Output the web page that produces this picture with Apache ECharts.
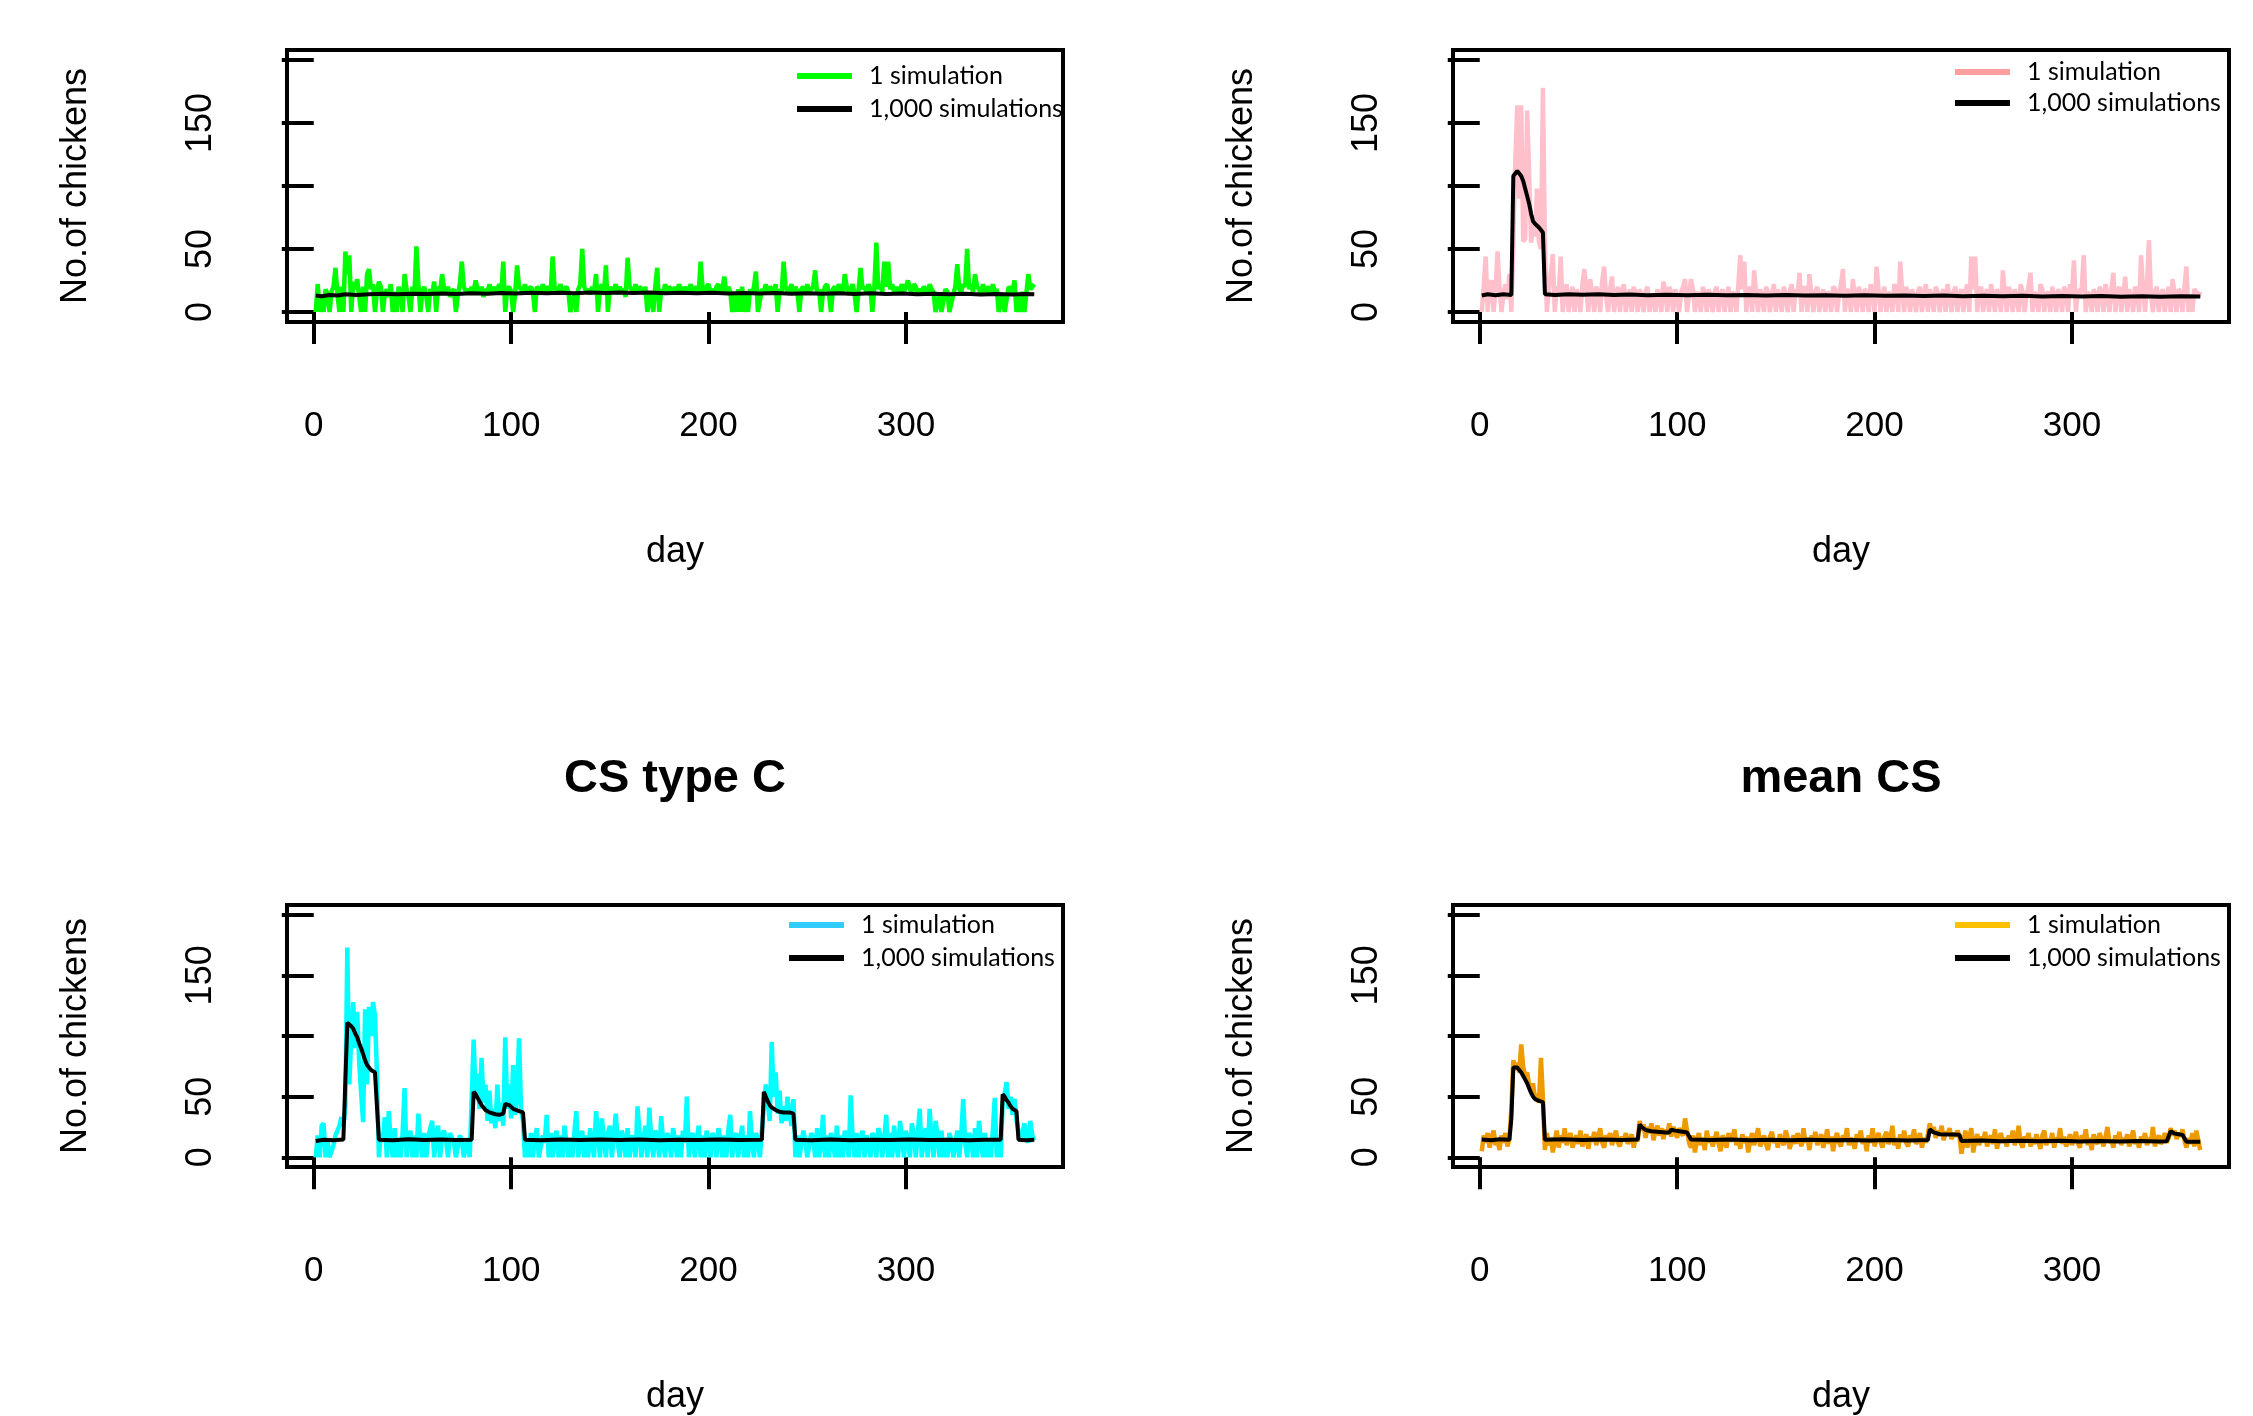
<!DOCTYPE html>
<html><head><meta charset="utf-8">
<script src="https://cdn.jsdelivr.net/npm/echarts@6/dist/echarts.min.js"></script>
<style>html,body{margin:0;padding:0;background:#fff}#c{width:2253px;height:1416px}</style>
</head><body><div id="c"></div>
<script>
// ---------- tick labels / names ----------
const xTicks = [0, 100, 200, 300];
const yTicks = [0, 50, 100, 150, 200];
const yLabels = [0, 50, 150];
const panelTitles = ['', '', 'CS type C', 'mean CS'];
const legendNames = ['1 simulation', '1,000 simulations'];
const xName = 'day';
const yName = 'No.of chickens';

// ---------- 1 simulation (days 1..365) ----------
const simA = [
0,22,0,12,0,18,14,0,16,20,
35,14,0,20,0,48,30,45,0,24,
18,26,12,0,20,0,30,34,18,22,
0,16,24,20,0,14,18,12,22,0,
16,0,20,14,0,30,18,12,0,20,
14,52,22,0,16,20,12,0,18,14,
24,0,20,16,30,18,14,20,12,16,
18,0,14,22,40,20,16,18,14,20,
16,25,18,14,20,12,18,16,22,14,
20,16,18,22,14,40,0,18,20,16,
0,14,37,20,18,16,22,14,18,20,
16,0,20,18,14,22,16,20,18,14,
44,20,16,18,22,14,18,20,16,0,
0,14,0,18,22,50,20,16,18,14,
20,16,30,0,18,22,14,37,0,20,
16,18,22,14,20,16,18,12,43,20,
18,14,22,16,20,18,14,20,0,0,
16,0,20,35,0,18,14,22,16,20,
18,14,20,16,22,18,14,20,16,18,
22,14,18,20,16,40,18,14,20,22,
16,18,14,20,22,16,18,28,14,20,
16,0,14,0,18,0,20,0,16,0,
18,14,20,32,0,0,18,16,22,14,
20,18,16,22,0,18,14,40,20,16,
18,22,14,20,16,0,18,20,14,22,
16,18,20,33,14,18,0,16,20,22,
14,0,18,20,16,22,18,14,30,20,
16,18,22,14,0,0,35,18,20,16,
22,18,0,20,55,18,22,16,40,20,
40,18,22,16,20,14,18,22,16,20,
25,18,16,22,20,14,18,16,20,18,
14,22,18,16,0,0,14,0,0,18,
16,0,0,14,20,38,18,16,22,20,
50,18,22,16,30,20,18,14,22,16,
18,20,14,22,16,18,0,0,14,0,
0,20,18,16,25,0,14,0,16,0,
0,30,18,20,22];

const simB = [
0,20,44,0,22,25,0,18,48,20,
0,14,22,10,30,0,56,120,164,90,
164,56,58,160,110,55,70,60,98,55,
50,178,55,0,18,30,46,0,20,12,
44,0,16,22,0,14,20,0,18,12,
0,22,34,18,0,26,14,0,20,16,
0,24,36,12,0,18,28,0,14,20,
0,16,22,0,12,18,0,20,14,0,
18,12,0,16,20,0,14,10,0,18,
12,0,24,16,0,20,14,0,18,12,
0,16,20,26,0,14,26,18,0,16,
12,0,20,14,0,18,12,0,16,20,
0,14,18,0,12,20,0,16,14,0,
22,45,18,40,0,16,20,0,33,14,
0,18,12,0,20,16,0,14,22,0,
18,12,0,20,14,0,16,22,0,18,
14,31,0,18,20,0,30,14,0,16,
20,0,12,18,0,16,14,0,20,18,
0,14,22,34,0,18,16,0,26,12,
0,20,14,0,18,16,0,22,14,0,
36,18,0,14,20,0,16,12,0,22,
18,0,40,16,0,20,14,0,18,12,
0,16,20,0,14,22,0,18,12,0,
20,16,0,14,18,0,22,12,0,16,
20,0,14,18,0,16,22,0,44,18,
44,0,16,20,0,14,18,0,22,12,
0,18,14,0,33,16,0,20,14,0,
18,12,0,22,16,0,14,20,31,0,
16,12,0,22,18,0,14,16,0,20,
12,0,18,14,0,20,16,0,22,14,
41,0,18,14,20,45,0,16,12,0,
18,14,0,20,16,0,22,14,0,18,
31,0,16,20,0,14,28,0,18,12,
0,20,16,0,45,18,0,22,57,14,
0,16,20,0,14,18,0,12,20,0,
26,14,0,18,16,0,20,36,0,14,
0,18,16,12,16];

const simC = [
0,18,0,26,28,0,14,0,0,10,
18,22,26,33,26,40,173,60,100,128,
90,120,79,53,29,122,60,124,100,128,
117,70,0,20,14,33,0,38,12,0,
24,0,16,0,20,57,0,14,22,0,
18,0,36,12,0,20,0,16,24,30,
0,20,26,0,18,22,14,0,20,16,
12,0,0,18,14,0,0,16,0,0,
97,50,69,40,82,45,60,30,55,28,
40,24,60,30,45,26,99,40,60,32,
76,35,50,98,40,30,0,14,0,20,
0,16,24,0,0,18,12,35,0,20,
0,14,22,0,18,0,26,12,0,16,
0,20,38,0,14,22,0,18,0,24,
12,0,38,20,0,32,14,0,20,26,
0,18,36,12,0,22,16,0,24,0,
18,14,0,42,20,0,16,26,0,41,
14,0,22,18,0,34,12,0,20,16,
0,24,14,0,18,0,22,12,50,0,
16,20,0,14,26,0,18,0,22,12,
0,20,16,0,24,14,0,18,0,22,
35,0,16,20,0,14,26,0,18,0,
38,12,0,20,16,0,22,40,60,45,
30,95,50,70,36,55,28,42,30,50,
35,26,48,0,18,0,0,22,14,0,
0,20,16,0,24,0,12,35,0,18,
0,20,14,0,26,0,18,0,22,14,
0,51,16,0,20,0,14,22,0,18,
12,0,20,16,0,24,18,0,14,35,
0,20,0,26,12,0,30,16,0,22,
14,0,28,18,0,20,40,0,16,24,
0,40,14,0,30,18,0,22,0,16,
0,20,14,0,0,22,0,18,48,12,
0,20,16,0,24,0,30,14,0,20,
0,16,0,22,49,0,14,0,45,52,
62,40,50,35,48,30,22,14,20,28,
16,12,30,18,14];

const simD = [
5,18,12,20,8,16,22,10,14,6,
18,12,20,9,15,40,80,72,78,70,
93,75,66,70,60,55,61,48,52,45,
82,48,6,20,10,16,4,14,22,8,
18,12,24,10,16,20,8,14,18,11,
22,9,15,19,7,17,13,21,10,16,
24,12,8,18,14,20,10,16,22,12,
9,17,14,20,11,15,19,8,16,13,
30,22,27,16,25,20,28,14,22,26,
18,24,15,23,19,28,17,25,21,16,
24,20,18,32,22,12,8,18,4,14,
20,10,16,6,22,12,17,9,15,21,
11,5,18,14,8,20,13,16,23,10,
15,7,19,12,17,4,14,20,10,16,
24,9,13,18,11,6,17,21,12,15,
8,19,14,10,22,16,7,13,18,11,
20,14,9,24,12,16,6,18,13,21,
10,15,19,8,14,23,11,17,5,15,
20,12,9,18,14,24,10,16,13,7,
19,14,22,11,16,5,18,12,24,9,
15,20,13,8,17,21,11,14,26,10,
16,7,19,13,22,12,9,18,15,23,
11,14,20,8,16,12,19,28,20,25,
16,22,18,26,14,21,19,24,15,20,
17,22,18,3,12,22,8,16,24,4,
14,19,10,17,13,21,9,15,18,11,
23,7,14,20,12,16,9,18,13,22,
10,15,26,12,8,17,14,20,9,16,
11,19,13,7,18,22,10,15,12,20,
8,16,14,24,11,17,9,13,19,10,
15,21,12,8,18,14,23,10,16,6,
19,13,11,20,15,9,17,25,12,14,
8,18,13,21,10,16,12,19,9,15,
22,11,14,8,17,13,20,10,16,12,
25,9,15,18,11,14,20,12,16,24,
18,22,15,20,17,23,14,8,16,11,
20,9,22,14,6];

// ---------- mean of 1,000 simulations [day, value] ----------
const meanA = [[1,13],[4,12.5],[8,13.5],[12,13],[16,14],[22,13.5],[28,14],[35,14.5],[42,14],[50,14.5],[58,14.2],[65,14.6],[72,14.2],[80,14.8],[88,14.4],[95,15],[102,14.6],[110,15.2],[118,14.8],[125,15.3],[132,14.9],[140,15.4],[148,15],[155,15.5],[162,15],[170,15.4],[178,14.9],[186,15.3],[194,14.8],[202,15.2],[210,14.7],[218,15.1],[226,14.6],[234,15],[242,14.5],[250,14.9],[258,14.4],[266,14.9],[274,14.3],[282,14.8],[290,14.3],[298,14.6],[306,14.1],[314,14.5],[322,14],[330,14.4],[338,13.9],[346,14.3],[354,13.8],[360,14.2],[365,14]];

const meanB = [[1,13],[4,14],[8,13.2],[12,14],[16,13.5],[17,108],[18,110],[19,112],[20,111],[21,108],[22,104],[23,98],[24,92],[25,86],[26,78],[27,72],[28,70],[29,69],[30,67],[31,65],[32,63],[33,14],[38,13.5],[45,14],[52,13.6],[60,14],[68,13.5],[76,13.8],[85,13.3],[95,13.7],[105,13.2],[115,13.6],[125,13.2],[135,13.5],[145,13],[155,13.4],[165,13],[175,13.3],[185,12.8],[195,13.2],[205,12.8],[215,13.1],[225,12.6],[235,13],[245,12.5],[255,12.9],[265,12.4],[275,12.8],[285,12.3],[295,12.7],[305,12.2],[315,12.6],[325,12.1],[335,12.5],[345,12],[355,12.4],[365,12.2]];

const meanC = [[1,13.5],[5,14.5],[10,14],[15,14.6],[16,14.5],[17,111],[18,110],[19,108],[20,106],[21,102],[22,99],[23,94],[24,90],[25,85],[26,80],[27,76],[28,74],[29,72],[30,71],[31,70],[32,69],[33,14.5],[40,14],[48,14.8],[56,14.2],[64,14.6],[72,14.2],[80,14.5],[81,54],[82,52],[83,49],[84,46],[85,43],[86,41],[87,39],[88,38],[89,37],[90,36],[92,35.5],[94,35],[96,36],[97,44],[98,44],[99,43],[100,42],[101,40],[102,39],[104,38],[106,37],[107,14.5],[115,14],[125,14.6],[135,14.2],[145,14.7],[155,14.3],[165,14.6],[175,14.1],[185,14.5],[195,14.2],[205,14.6],[215,14.2],[227,14.5],[228,54],[229,50],[230,46],[231,43],[232,41],[233,40],[234,39],[235,38],[236,37.5],[238,37],[241,37],[243,36],[244,14.5],[252,14],[262,14.6],[272,14.1],[282,14.5],[292,14.2],[302,14.6],[312,14.2],[322,14.5],[332,14.1],[340,14.5],[348,14.5],[349,52],[350,50],[351,47],[352,45],[353,42],[354,40],[355,39],[356,38],[357,14.5],[361,14],[365,14.5]];

const meanD = [[1,14.6],[6,14],[10,14.8],[15,14.5],[16,32],[17,74],[18,75],[19,74],[20,72],[21,70],[22,67],[23,64],[24,61],[25,57],[26,53],[27,50],[28,48],[29,47],[30,46.5],[31,46],[32,45.5],[33,14.5],[42,14.8],[52,14.3],[62,14.7],[72,14.2],[80,14.6],[81,27],[82,25],[83,23.5],[84,22.5],[85,22],[87,21.5],[90,21],[94,20.5],[96,20.5],[97,22.7],[99,22],[101,21.5],[103,21],[105,20.5],[106,20],[107,14.6],[117,14.2],[127,14.6],[137,14.1],[147,14.5],[157,14],[167,14.4],[177,14],[187,14.3],[197,13.9],[207,14.3],[217,13.9],[227,14.2],[228,23],[229,22],[230,20.5],[231,19.5],[233,19],[236,18.8],[240,18.7],[243,18.5],[244,13.5],[254,13.8],[264,13.3],[274,13.7],[284,13.2],[294,13.6],[304,13.1],[314,13.5],[324,13],[334,13.4],[344,13],[348,13.2],[349,14],[350,21.5],[351,21],[352,19.5],[354,19],[356,18.5],[357,18.5],[358,12.8],[365,12.8]];

// ---------- styling / layout ----------
const simSets = [simA, simB, simC, simD];
const meanSets = [meanA, meanB, meanC, meanD];
const simColors = ['#00FF00', '#FFC0CB', '#00FFFF', '#EE9A00'];
const legendColors = ['#00FF00', '#FF9E9E', '#33CCFF', '#FFC000'];
const panels = [
  {left: 287, top: 50, width: 776, height: 272, lgLeft: 797, lgTop: 61, lgGap: 3, titleX: 675},
  {left: 1453, top: 50, width: 776, height: 272, lgLeft: 1955, lgTop: 57, lgGap: 1, titleX: 1841},
  {left: 287, top: 905, width: 776, height: 271, lgLeft: 789, lgTop: 910, lgGap: 3, titleX: 675},
  {left: 1453, top: 905, width: 776, height: 271, lgLeft: 1955, lgTop: 910, lgGap: 3, titleX: 1841}
];
const XMIN = 1 - 0.04 * 364, XMAX = 365 + 0.04 * 364;
const YMIN = -8, YMAX = 208;
const FONT = 'Liberation Sans, Arial, sans-serif';

const grid = [], xAxis = [], yAxis = [], series = [], legend = [], title = [];
panels.forEach((p, i) => {
  grid.push({left: p.left, top: p.top, width: p.width, height: p.height, show: true,
    borderColor: '#000', borderWidth: 4, backgroundColor: 'transparent', containLabel: false});
  xAxis.push({type: 'value', gridIndex: i, min: XMIN, max: XMAX,
    name: xName, nameLocation: 'middle', nameGap: 212,
    nameTextStyle: {fontFamily: FONT, fontSize: 36, color: '#000'},
    axisLine: {show: false}, splitLine: {show: false},
    axisTick: {show: true, inside: false, length: 32, customValues: xTicks, lineStyle: {color: '#000', width: 4}},
    axisLabel: {show: true, margin: 87, customValues: xTicks, fontFamily: FONT, fontSize: 35, color: '#000'}});
  yAxis.push({type: 'value', gridIndex: i, min: YMIN, max: YMAX,
    name: yName, nameLocation: 'middle', nameGap: 193,
    nameTextStyle: {fontFamily: FONT, fontSize: 36, color: '#000'},
    axisLine: {show: false}, splitLine: {show: false},
    axisTick: {show: true, inside: false, length: 32, customValues: yTicks, lineStyle: {color: '#000', width: 4}},
    axisLabel: {show: true, rotate: 90, margin: 68, customValues: yLabels, fontFamily: FONT, fontSize: 36, color: '#000'}});
  series.push({name: legendNames[0], type: 'line', xAxisIndex: i, yAxisIndex: i,
    data: simSets[i].map((v, d) => [d + 1, v]), showSymbol: false, symbol: 'none',
    lineStyle: {color: simColors[i], width: 4.5}, itemStyle: {color: simColors[i]}, z: 2});
  series.push({name: legendNames[1], type: 'line', xAxisIndex: i, yAxisIndex: i,
    data: meanSets[i], showSymbol: false, symbol: 'none',
    lineStyle: {color: '#000', width: 4}, itemStyle: {color: '#000'}, z: 3});
  legend.push({left: p.lgLeft, top: p.lgTop, orient: 'vertical', padding: 0, itemGap: p.lgGap,
    itemWidth: 55, itemHeight: 6, icon: 'rect', selectedMode: false,
    textStyle: {fontFamily: 'Lato, Open Sans, sans-serif', fontSize: 25, lineHeight: 30, color: '#000', padding: [0, 0, 0, 12]},
    data: [{name: legendNames[0], itemStyle: {color: legendColors[i]}},
           {name: legendNames[1], itemStyle: {color: '#000'}}]});
  if (panelTitles[i]) {
    title.push({text: panelTitles[i], left: p.titleX, top: p.top - 149, textAlign: 'center', padding: 0,
      textStyle: {fontFamily: FONT, fontWeight: 'bold', fontSize: 47, color: '#000'}});
  }
});

const chart = echarts.init(document.getElementById('c'), null, {renderer: 'canvas'});
chart.setOption({backgroundColor: '#fff', animation: false, title, legend, grid, xAxis, yAxis, series});
</script>
</body></html>
